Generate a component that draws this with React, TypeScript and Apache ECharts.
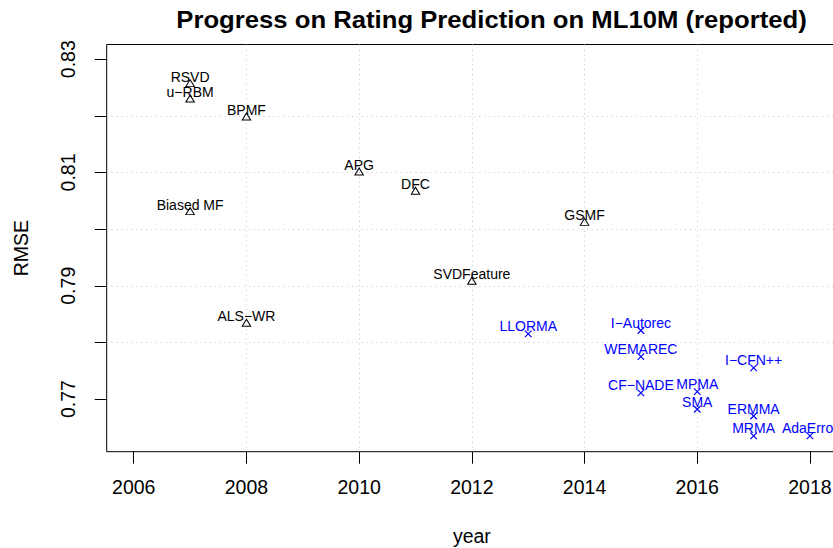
import React, { useEffect, useRef } from "react";
import * as echarts from "echarts";

const FONT = '"Liberation Sans", Arial, Helvetica, sans-serif';

// Classic methods (black open triangles)
const classicNames = ["RSVD", "u\u2212RBM", "BPMF", "Biased MF", "ALS\u2212WR", "APG", "DFC", "GSMF", "SVDFeature"];
const classicYears = [2007, 2007, 2008, 2007, 2008, 2010, 2011, 2014, 2012];
const classicRmse = [0.8256, 0.8229, 0.8197, 0.803, 0.7833, 0.81, 0.8066, 0.8011, 0.7907];

// Newer methods (blue crosses)
const newNames = ["LLORMA", "I\u2212Autorec", "WEMAREC", "CF\u2212NADE", "MPMA", "SMA", "I\u2212CFN++", "ERMMA", "MRMA", "AdaError"];
const newYears = [2013, 2015, 2015, 2015, 2016, 2016, 2017, 2017, 2017, 2018];
const newRmse = [0.7815, 0.7821, 0.7775, 0.7711, 0.7713, 0.7682, 0.7755, 0.767, 0.7635, 0.7635];

const xTicks = [2006, 2008, 2010, 2012, 2014, 2016, 2018];
const yTicks = [0.77, 0.78, 0.79, 0.8, 0.81, 0.82, 0.83];
const yTickLabels = [0.77, 0.79, 0.81, 0.83];

const titleText = "Progress on Rating Prediction on ML10M (reported)";

export default function App() {
  const ref = useRef<HTMLDivElement>(null);
  useEffect(() => {
    if (!ref.current) return;
    const chart = echarts.init(ref.current, null, { renderer: "svg" });
    const classicData = classicNames.map((n, i) => ({ name: n, value: [classicYears[i], classicRmse[i]] }));
    const newData = newNames.map((n, i) => ({ name: n, value: [newYears[i], newRmse[i]] }));
    const gridLine = { show: true, showMinLine: false, showMaxLine: false, lineStyle: { color: "#d3d3d3", width: 1, type: [1.3, 3.6] } };
    chart.setOption({
      animation: false,
      backgroundColor: "#ffffff",
      graphic: [
        {
          type: "text",
          x: 491.5,
          y: 20,
          scaleX: 1.07,
          style: {
            text: titleText,
            fontFamily: FONT,
            fontWeight: "bold",
            fontSize: 24,
            fill: "#000",
            align: "center",
            verticalAlign: "middle",
          },
        },
      ],
      grid: {
        show: true,
        left: 106.7,
        right: -4,
        top: 44.5,
        bottom: 96.3,
        containLabel: false,
        outerBoundsMode: "none",
        borderColor: "#000",
        borderWidth: 1,
        backgroundColor: "transparent",
      },
      xAxis: {
        type: "value",
        min: 2005.52,
        max: 2018.48,
        minInterval: 2,
        maxInterval: 2,
        name: "year",
        nameLocation: "middle",
        nameGap: 74.5,
        nameTextStyle: { fontFamily: FONT, fontSize: 19.5, color: "#000" },
        axisLine: { show: false },
        axisTick: { show: true, customValues: xTicks, length: 12, inside: false, lineStyle: { color: "#000", width: 1 } },
        axisLabel: {
          show: true,
          customValues: xTicks,
          margin: 25,
          fontFamily: FONT,
          fontSize: 19.5,
          color: "#000",
          formatter: (v: number) => String(Math.round(v)),
        },
        splitLine: gridLine,
      },
      yAxis: {
        type: "value",
        min: 0.7607,
        max: 0.8326,
        minInterval: 0.01,
        maxInterval: 0.01,
        name: "RMSE",
        nameLocation: "middle",
        nameGap: 76,
        nameRotate: 90,
        nameTextStyle: { fontFamily: FONT, fontSize: 19.5, color: "#000" },
        axisLine: { show: false },
        axisTick: { show: true, customValues: yTicks, length: 12, inside: false, lineStyle: { color: "#000", width: 1 } },
        axisLabel: {
          show: true,
          customValues: yTickLabels,
          rotate: 90,
          margin: 29,
          fontFamily: FONT,
          fontSize: 19.5,
          color: "#000",
          formatter: (v: number) => v.toFixed(2),
        },
        splitLine: gridLine,
      },
      series: [
        {
          type: "scatter",
          data: classicData,
          symbol: "triangle",
          symbolSize: [8.5, 7],
          symbolOffset: [0, -1],
          itemStyle: { color: "transparent", borderColor: "#000", borderWidth: 1, opacity: 1 },
          label: {
            show: true,
            position: "inside",
            offset: [0, -6.5],
            formatter: "{b}",
            fontFamily: FONT,
            fontSize: 14,
            color: "#000",
            opacity: 1,
          },
          clip: false,
        },
        {
          type: "scatter",
          data: newData,
          symbol: "path://M0,0L10,10M10,0L0,10",
          symbolSize: 6.5,
          itemStyle: { color: "transparent", borderColor: "#0000ff", borderWidth: 1.2, opacity: 1 },
          label: {
            show: true,
            position: "inside",
            offset: [0, -7.5],
            formatter: "{b}",
            fontFamily: FONT,
            fontSize: 14,
            color: "#0000ff",
            opacity: 1,
          },
          clip: false,
        },
      ],
    });
    return () => chart.dispose();
  }, []);
  return (
    <div
      ref={ref}
      style={{ position: "fixed", left: 0, top: 0, width: 833, height: 548, background: "#fff" }}
    />
  );
}
